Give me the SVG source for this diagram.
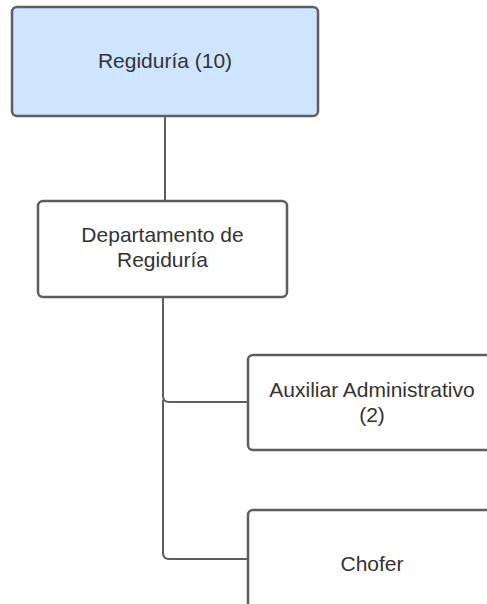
<svg xmlns="http://www.w3.org/2000/svg" width="487" height="604" viewBox="0 0 487 604">
<style>
.box{fill:#ffffff;stroke:#5e5e5e;stroke-width:2.5}
.blue{fill:#cfe4ff}
.t{font-family:"Liberation Sans",Arial,sans-serif;font-size:21px;fill:#333333;text-anchor:middle}
.c{fill:none;stroke:#5e5e5e;stroke-width:2}
</style>
<rect width="487" height="604" fill="#ffffff"/>
<g id="connectors">
<line class="c" x1="165" y1="116" x2="165" y2="201"/>
<path class="c" d="M163 297 V396 Q163 402 169 402 H248"/>
<path class="c" d="M163 400 V553 Q163 559 169 559 H248"/>
</g>
<g id="n1">
<rect class="box blue" x="12" y="7" width="306" height="109" rx="5"/>
<text class="t" x="165" y="68">Regiduría (10)</text>
</g>
<g id="n2">
<rect class="box" x="38" y="201" width="249" height="96" rx="5"/>
<text class="t" x="162.5" y="242">Departamento de</text>
<text class="t" x="162.5" y="267">Regiduría</text>
</g>
<g id="n3">
<rect class="box" x="248" y="355" width="248" height="95" rx="5"/>
<text class="t" x="372" y="397">Auxiliar Administrativo</text>
<text class="t" x="372" y="422">(2)</text>
</g>
<g id="n4">
<rect class="box" x="248" y="510" width="248" height="106" rx="5"/>
<text class="t" x="372" y="571">Chofer</text>
</g>
</svg>
